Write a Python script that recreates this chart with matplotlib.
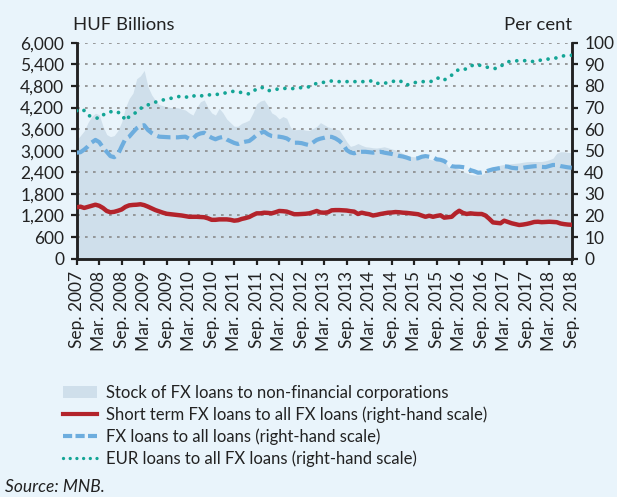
import numpy as np
import matplotlib
matplotlib.use("Agg")
import matplotlib.pyplot as plt
from matplotlib.lines import Line2D
from matplotlib.patches import Patch

# monthly data, Sep. 2007 - Sep. 2018
stock = [3300, 3420, 3550, 3780, 3950, 4040, 4000, 3680, 3450, 3390, 3420, 3560,
         3800, 4200, 4450, 4600, 5000, 5080, 5230, 4780, 4550, 4400, 4280, 4250,
         4220, 4200, 4200, 4190, 4160, 4130, 4050, 3990, 4200, 4360, 4410, 4200,
         4050, 3990, 4180, 4050, 3880, 3780, 3680, 3680, 3760, 3800, 3850, 4050,
         4300, 4380, 4410, 4250, 4050, 3990, 3880, 3950, 3900, 3650, 3580, 3590,
         3600, 3570, 3560, 3620, 3670, 3780, 3720, 3660, 3630, 3600, 3575, 3420,
         3250, 3120, 3150, 3200, 3150, 3110, 3100, 3080, 3075, 3090, 3110, 3080,
         3050, 3020, 2980, 2920, 2880, 2840, 2830, 2830, 2830, 2800, 2760, 2740,
         2760, 2800, 2790, 2550, 2520, 2520, 2480, 2420, 2380, 2340, 2325, 2325,
         2330, 2400, 2460, 2520, 2570, 2600, 2620, 2630, 2640, 2650, 2660, 2680,
         2695, 2700, 2700, 2700, 2700, 2720, 2750, 2790, 2930, 2970, 2970, 2950,
         2950]

short_term = [23.8, 24.1, 23.5, 24.0, 24.5, 25.0, 24.5, 23.5, 22.1, 21.5, 21.7, 22.2,
              22.8, 24.0, 24.7, 24.9, 25.0, 25.2, 24.8, 24.1, 23.3, 22.5, 21.9, 21.3,
              20.8, 20.6, 20.4, 20.2, 20.0, 19.7, 19.4, 19.4, 19.4, 19.3, 19.2, 18.7,
              18.0, 18.0, 18.2, 18.2, 18.2, 18.0, 17.6, 17.8, 18.4, 18.8, 19.3, 20.2,
              21.0, 21.0, 21.3, 21.2, 21.0, 21.5, 22.1, 22.0, 21.8, 21.2, 20.6, 20.6,
              20.7, 20.8, 21.0, 21.5, 22.1, 21.4, 21.3, 21.5, 22.4, 22.5, 22.5, 22.4,
              22.3, 22.0, 21.8, 20.7, 21.3, 20.9, 20.6, 20.0, 20.3, 20.7, 21.0, 21.3,
              21.4, 21.6, 21.5, 21.3, 21.2, 21.0, 20.8, 20.6, 20.0, 19.4, 19.9, 19.4,
              19.8, 20.1, 19.0, 19.2, 19.4, 21.0, 22.2, 21.2, 20.7, 21.0, 20.8, 20.7,
              20.7, 20.0, 18.5, 16.8, 16.6, 16.4, 17.6, 17.0, 16.4, 16.0, 15.6, 15.8,
              16.1, 16.5, 17.0, 17.1, 16.9, 17.0, 17.1, 17.0, 16.9, 16.3, 16.0, 15.8,
              15.7]

fx_share = [49.1, 49.3, 50.5, 52.0, 53.8, 55.0, 54.0, 51.5, 49.5, 47.5, 47.0, 48.3,
            52.0, 55.5, 56.5, 58.5, 60.4, 61.5, 61.8, 59.6, 58.2, 57.2, 56.5, 56.4,
            56.3, 56.2, 56.2, 56.2, 56.4, 56.5, 55.5, 55.6, 57.3, 58.0, 58.3, 57.0,
            56.0, 55.3, 56.0, 56.4, 55.2, 54.4, 53.6, 53.1, 53.8, 54.2, 54.5, 55.8,
            57.3, 58.2, 58.8, 57.6, 56.8, 56.6, 56.5, 56.2, 55.7, 54.6, 53.7, 53.7,
            53.5, 53.0, 52.6, 53.8, 55.0, 55.6, 56.0, 56.5, 56.4, 55.7, 54.6, 53.0,
            50.3, 49.2, 48.8, 49.4, 49.5, 49.5, 49.3, 49.1, 49.3, 49.5, 49.1, 48.8,
            48.5, 48.1, 47.6, 47.3, 46.8, 46.2, 46.3, 46.5, 47.2, 47.5, 47.2, 47.0,
            46.0, 45.8, 45.2, 44.0, 42.8, 42.6, 42.6, 42.4, 42.1, 41.0, 40.5, 39.8,
            39.9, 40.3, 40.9, 41.4, 41.7, 42.0, 42.8, 42.6, 42.1, 41.9, 41.8, 42.1,
            42.4, 42.6, 42.8, 42.9, 42.5, 42.4, 42.9, 43.4, 43.4, 42.9, 42.6, 42.3,
            42.1]

eur_share = [68.5, 69.3, 68.6, 66.5, 65.7, 65.2, 65.0, 66.5, 67.6, 68.0, 68.4, 67.8,
             67.0, 63.9, 65.8, 67.0, 67.8, 69.5, 70.7, 71.2, 71.9, 72.5, 73.1, 73.5,
             73.8, 74.2, 74.7, 75.0, 75.3, 75.0, 74.5, 75.2, 75.8, 75.5, 75.3, 75.7,
             76.1, 76.1, 76.1, 76.5, 76.9, 77.2, 77.6, 77.3, 76.9, 76.5, 76.3, 77.5,
             78.6, 79.4, 79.0, 77.8, 78.0, 78.4, 78.6, 78.9, 78.8, 78.6, 78.9, 79.1,
             79.2, 79.4, 79.6, 80.5, 81.2, 81.5, 81.7, 82.0, 82.3, 82.1, 82.0, 82.0,
             82.0, 82.0, 82.0, 82.0, 82.0, 82.0, 82.2, 82.4, 81.2, 81.2, 81.2, 81.6,
             82.0, 82.3, 82.6, 81.5, 80.4, 81.0, 81.5, 81.8, 82.0, 82.0, 82.0, 82.2,
             83.5, 83.8, 82.7, 84.0, 85.0, 86.5, 87.8, 87.8, 87.8, 89.0, 90.0, 89.7,
             89.4, 88.9, 88.4, 88.2, 88.0, 89.2, 90.0, 91.2, 91.4, 91.6, 91.7, 91.7,
             91.7, 91.5, 91.2, 91.6, 92.1, 92.3, 92.5, 92.7, 93.0, 93.5, 94.0, 94.1,
             94.2]

tick_labels = ["Sep. 2007", "Mar. 2008", "Sep. 2008", "Mar. 2009", "Sep. 2009",
               "Mar. 2010", "Sep. 2010", "Mar. 2011", "Sep. 2011", "Mar. 2012",
               "Sep. 2012", "Mar. 2013", "Sep. 2013", "Mar. 2014", "Sep. 2014",
               "Mar. 2015", "Sep. 2015", "Mar. 2016", "Sep. 2016", "Mar. 2017",
               "Sep. 2017", "Mar. 2018", "Sep. 2018"]

bg = "#e9f4fb"
area_col = "#cfdfeb"
red = "#b3232b"
blue = "#6dadde"
teal = "#14a596"
dark = "#222222"

plt.rcParams["font.family"] = ["Lato", "DejaVu Sans"]
plt.rcParams["font.size"] = 12.5

months = np.arange(len(stock))

fig = plt.figure(figsize=(6.17, 4.97), dpi=100, facecolor=bg)
ax = fig.add_axes([0.1243, 0.4795, 0.8023, 0.4345])
ax.set_facecolor(bg)
ax2 = ax.twinx()

ax.fill_between(months, stock, color=area_col, lw=0, zorder=1)
ax.set_xlim(0, months[-1])
ax.set_ylim(0, 6000)
ax.set_yticks(np.arange(0, 6001, 600))
ax.set_yticklabels([f"{v:,}" for v in range(0, 6001, 600)])
for v in range(600, 6001, 600):
    ax.axhline(v, color="#8a8a8a", lw=1.2, dashes=(1.6, 3.2), zorder=2)

ax2.set_ylim(0, 100)
ax2.set_yticks(np.arange(0, 101, 10))
ax2.plot(months, short_term, color=red, lw=3.2, solid_capstyle="round", zorder=5)
ax2.plot(months, fx_share, color=blue, lw=3.0, dashes=(3.2, 1.3), zorder=5)
ax2.plot(months, eur_share, color=teal, lw=2.7, dashes=(0.01, 2.1),
         dash_capstyle="round", zorder=5)

ax.set_xticks(np.arange(0, len(stock), 6))
ax.set_xticklabels(tick_labels, rotation=90)

for a in (ax, ax2):
    a.spines["top"].set_visible(False)
    for s in ("left", "right", "bottom"):
        a.spines[s].set_color(dark)
        a.spines[s].set_linewidth(1.8)
    a.tick_params(colors=dark, labelcolor=dark, width=1.6, length=4.5,
                  labelsize=12.5, pad=4.5)
ax.tick_params(axis="x", length=4.5, pad=4.5)

fig.text(0.118, 0.95, "HUF Billions", fontsize=13.3, color=dark, ha="left", va="center")
fig.text(0.927, 0.95, "Per cent", fontsize=13.3, color=dark, ha="right", va="center")

handles = [Patch(facecolor=area_col, edgecolor="none"),
           Line2D([], [], color=red, lw=3.0),
           Line2D([], [], color=blue, lw=3.0, dashes=(2.2, 0.8)),
           Line2D([], [], color=teal, lw=2.4, dashes=(0.01, 2.0), dash_capstyle="round")]
labels = ["Stock of FX loans to non-financial corporations",
          "Short term FX loans to all FX loans (right-hand scale)",
          "FX loans to all loans (right-hand scale)",
          "EUR loans to all FX loans (right-hand scale)"]
fig.legend(handles, labels, loc="upper left", bbox_to_anchor=(0.089, 0.243),
           frameon=False, fontsize=12, handlelength=2.0, handletextpad=0.55,
           labelspacing=0.34, borderpad=0, labelcolor=dark)

fig.text(0.008, 0.02, "Source: MNB.", fontsize=12.5, style="italic", color=dark,
         ha="left", va="center")

fig.savefig("out.png", dpi=100, facecolor=bg)
